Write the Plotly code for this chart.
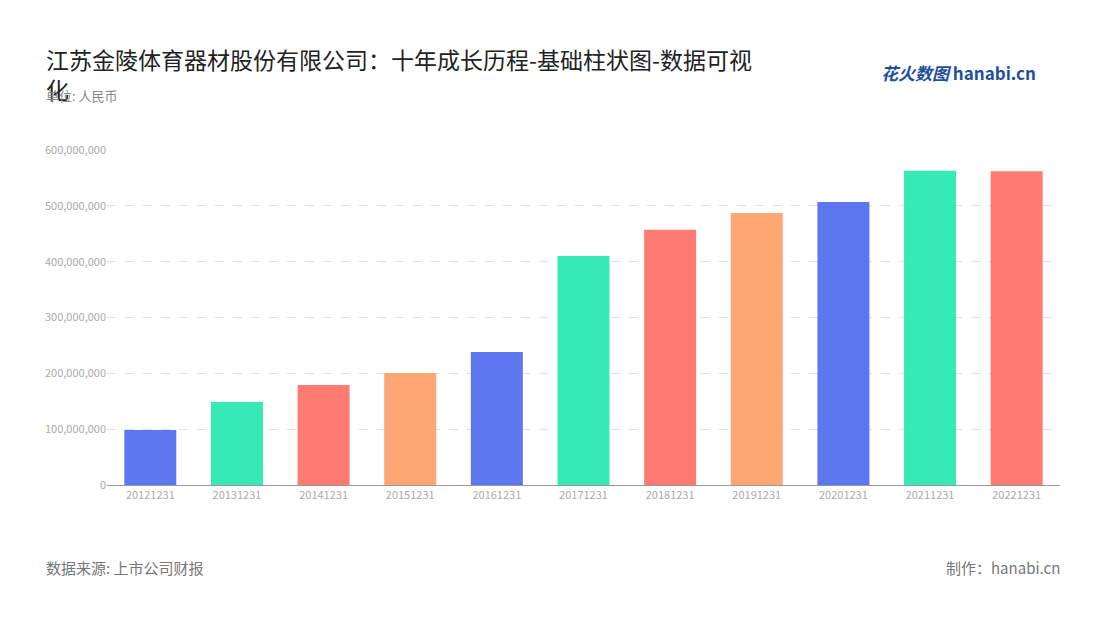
import plotly.graph_objects as go

categories = ["20121231","20131231","20141231","20151231","20161231","20171231",
              "20181231","20191231","20201231","20211231","20221231"]
values = [98.6e6,148.7e6,179e6,200.7e6,238e6,410e6,457e6,487e6,507e6,563e6,562e6]
palette = ["#5470f0","#2de8b0","#ff7369","#ffa26e"]
colors = [palette[i % 4] for i in range(len(values))]
tickvals = [0,1e8,2e8,3e8,4e8,5e8,6e8]
ticktext = ["0","100,000,000","200,000,000","300,000,000","400,000,000","500,000,000","600,000,000"]

OX, OY = 8, 8
L, R, T, B = 107 - OX, 40 + OX, 150 - OY, 135 + OY
fig = go.Figure(go.Bar(x=categories, y=values, marker=dict(color=colors, line=dict(width=0)),
                       width=0.6, opacity=0.95))
F = "Noto Sans CJK SC"
fig.update_layout(
    width=1100, height=620, plot_bgcolor="white", paper_bgcolor="white",
    margin=dict(l=L, r=R, t=T, b=B),
    font=dict(family=F, color="#999"),
    showlegend=False,
    xaxis=dict(type="category", showline=True, linecolor="#999", tickfont=dict(size=11, color="#aaa"),
               ticks="", showgrid=False),
    yaxis=dict(range=[0,6e8], tickvals=tickvals, ticktext=ticktext, showgrid=True,
               gridcolor="#e0e0e0", griddash="dash", zeroline=False, tickfont=dict(size=11, color="#aaa"),
               ticks=""),
    annotations=[
        dict(text="江苏金陵体育器材股份有限公司：十年成长历程-基础柱状图-数据可视<br>化", x=44, y=40,
             showarrow=False, xanchor="left", yanchor="top", align="left",
             font=dict(size=23, color="#222", family=F)),
        dict(text="单位: 人民币", x=44, y=95, showarrow=False, xanchor="left", yanchor="middle",
             font=dict(size=13, color="#888", family=F)),
        dict(text="数据来源: 上市公司财报", x=44, y=567, showarrow=False, xanchor="left", yanchor="middle",
             font=dict(size=15, color="#777", family=F)),
        dict(text="制作：hanabi.cn", x=1062, y=567, showarrow=False, xanchor="right", yanchor="middle",
             font=dict(size=15, color="#777", family=F)),
        dict(text="<b><i>花火数图</i></b> <b>hanabi.cn</b>", x=1038, y=72, showarrow=False, xanchor="right",
             yanchor="middle", font=dict(size=17, color="#1f4fa0", family=F)),
    ],
)
W, H = 1100 - OX, 620 - OY
for a in fig.layout.annotations:
    a.xref = "paper"; a.yref = "paper"
    a.x = (a.x - OX - L) / (1100 - L - R)
    a.y = 1 - (a.y - OY - T) / (620 - T - B)
fig.write_html("out.html")
